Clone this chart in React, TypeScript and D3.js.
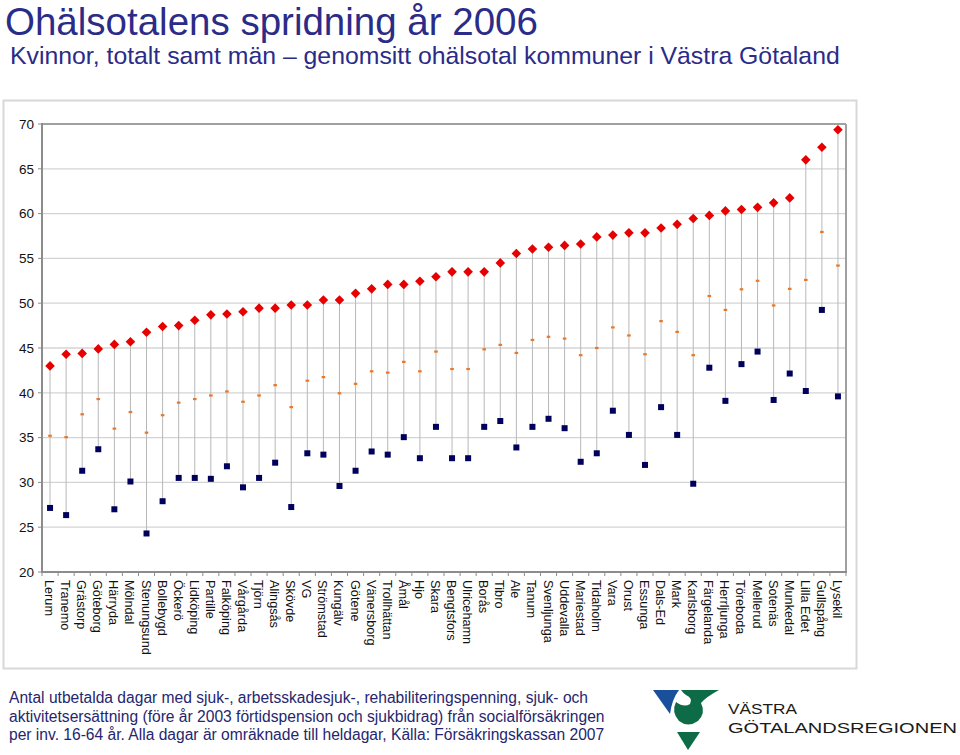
import React from "react";
import * as d3 from "d3";

const categories = [
  "Lerum", "Tranemo", "Grästorp", "Göteborg", "Härryda", "Mölndal", "Stenungsund", "Bollebygd", "Öckerö", "Lidköping",
  "Partille", "Falköping", "Vårgårda", "Tjörn", "Alingsås", "Skövde", "VG", "Strömstad", "Kungälv", "Götene",
  "Vänersborg", "Trollhättan", "Åmål", "Hjo", "Skara", "Bengtsfors", "Ulricehamn", "Borås", "Tibro", "Ale",
  "Tanum", "Svenljunga", "Uddevalla", "Mariestad", "Tidaholm", "Vara", "Orust", "Essunga", "Dals-Ed", "Mark",
  "Karlsborg", "Färgelanda", "Herrljunga", "Töreboda", "Mellerud", "Sotenäs", "Munkedal", "Lilla Edet", "Gullspång", "Lysekil",
];

const women = [
  43.0, 44.3, 44.4, 44.9, 45.4, 45.7, 46.75, 47.4, 47.5, 48.1,
  48.7, 48.8, 49.05, 49.45, 49.45, 49.8, 49.8, 50.35, 50.35, 51.1,
  51.6, 52.1, 52.1, 52.45, 52.95, 53.5, 53.5, 53.5, 54.5, 55.55,
  56.05, 56.25, 56.45, 56.6, 57.4, 57.6, 57.85, 57.85, 58.4, 58.8,
  59.45, 59.8, 60.3, 60.45, 60.7, 61.2, 61.75, 66.0, 67.4, 69.35,
];

const total = [
  35.2, 35.05, 37.6, 39.3, 36.0, 37.85, 35.55, 37.5, 38.9, 39.3,
  39.7, 40.15, 39.0, 39.7, 40.85, 38.4, 41.35, 41.75, 39.95, 41.0,
  42.4, 42.25, 43.45, 42.4, 44.6, 42.65, 42.65, 44.85, 45.35, 44.45,
  45.9, 46.25, 46.05, 44.2, 45.0, 47.3, 46.4, 44.3, 48.0, 46.8,
  44.2, 50.8, 49.25, 51.55, 52.5, 49.75, 51.6, 52.6, 57.95, 54.2,
];

const men = [
  27.15, 26.35, 31.3, 33.7, 27.0, 30.1, 24.3, 27.9, 30.5, 30.5,
  30.4, 31.8, 29.45, 30.5, 32.2, 27.25, 33.25, 33.1, 29.6, 31.3,
  33.45, 33.1, 35.05, 32.7, 36.2, 32.7, 32.7, 36.2, 36.85, 33.9,
  36.2, 37.1, 36.05, 32.3, 33.25, 38.0, 35.3, 31.95, 38.4, 35.3,
  29.85, 42.8, 39.1, 43.2, 44.6, 39.2, 42.15, 40.2, 49.25, 39.6,
];

const yTicks = [20, 25, 30, 35, 40, 45, 50, 55, 60, 65, 70];

const titleText = "Ohälsotalens spridning år 2006";
const subtitleText = "Kvinnor, totalt samt män – genomsitt ohälsotal kommuner i Västra Götaland";
const footnoteLines = [
  "Antal utbetalda dagar med sjuk-, arbetsskadesjuk-, rehabiliteringspenning, sjuk- och",
  "aktivitetsersättning (före år 2003 förtidspension och sjukbidrag) från socialförsäkringen",
  "per inv. 16-64 år. Alla dagar är omräknade till heldagar, Källa: Försäkringskassan 2007",
];

const FONT = "'Liberation Sans', Arial, Helvetica, sans-serif";

export default function App() {
  const W = 960;
  const H = 755;
  const left = 42;
  const right = 846;
  const top = 124;
  const bottom = 572;

  const x = d3.scaleBand<string>().domain(categories).range([left, right]).padding(0);
  const y = d3.scaleLinear().domain([20, 70]).range([bottom, top]);
  const bw = x.bandwidth();
  const cx = (c: string) => (x(c) as number) + bw / 2;

  const dr = 4.8;
  const diamond = `M0,${-dr}L${dr},0L0,${dr}L${-dr},0Z`;
  const gridColor = "#d4d4d4";
  const titleColor = "#2b2b88";

  return (
    <svg
      width={W}
      height={H}
      viewBox={`0 0 ${W} ${H}`}
      style={{ position: "absolute", left: 0, top: 0, background: "#fff" }}
      fontFamily={FONT}
    >
      <rect x={0} y={0} width={W} height={H} fill="#fff" />
      {/* Titles */}
      <text x={5} y={35} fontSize={38.5} fill={titleColor}>{titleText}</text>
      <text x={10} y={64} fontSize={24.8} fill={titleColor}>{subtitleText}</text>

      {/* Chart panel */}
      <rect x={3.5} y={100.5} width={853} height={568} fill="#fff" stroke="#d8d8d8" strokeWidth={2} />

      {/* Gridlines */}
      {yTicks.filter((t) => t > 20 && t < 70).map((t) => (
        <line key={`g${t}`} x1={left} x2={right} y1={y(t)} y2={y(t)} stroke={gridColor} strokeWidth={1.3} />
      ))}

      {/* Plot border */}
      <line x1={left} x2={right} y1={top} y2={top} stroke="#a0a0a0" strokeWidth={2} />
      <line x1={right} x2={right} y1={top} y2={bottom} stroke="#a0a0a0" strokeWidth={2} />
      <line x1={left} x2={left} y1={top - 1} y2={bottom} stroke="#8c8c8c" strokeWidth={2} />
      <line x1={left - 1} x2={right + 1} y1={bottom} y2={bottom} stroke="#8c8c8c" strokeWidth={2} />

      {/* Y ticks + labels */}
      {yTicks.map((t) => (
        <g key={`y${t}`}>
          <line x1={left - 4} x2={left} y1={y(t)} y2={y(t)} stroke="#8c8c8c" strokeWidth={1} />
          <text x={34} y={y(t)} dy="0.35em" fontSize={13.5} textAnchor="end" fill="#111">{t}</text>
        </g>
      ))}

      {/* X ticks */}
      {categories.map((c, i) => (
        <line key={`xt${i}`} x1={x(c) as number} x2={x(c) as number} y1={bottom} y2={bottom + 4} stroke="#8c8c8c" strokeWidth={1} />
      ))}
      <line x1={right} x2={right} y1={bottom} y2={bottom + 4} stroke="#8c8c8c" strokeWidth={1} />

      {/* X labels */}
      {categories.map((c, i) => (
        <text
          key={`xl${i}`}
          transform={`translate(${cx(c) - 1},${580}) rotate(90)`}
          fontSize={12.7}
          dominantBaseline="central"
          fill="#111"
        >
          {c}
        </text>
      ))}

      {/* High-low lines */}
      {categories.map((c, i) => {
        const hi = Math.max(women[i], total[i], men[i]);
        const lo = Math.min(women[i], total[i], men[i]);
        return (
          <line key={`hl${i}`} x1={cx(c)} x2={cx(c)} y1={y(hi)} y2={y(lo)} stroke="#b8b8b8" strokeWidth={1} />
        );
      })}

      {/* Total markers (orange dash) */}
      {categories.map((c, i) => (
        <rect key={`t${i}`} x={cx(c) - 1.8} y={y(total[i]) - 1.1} width={3.6} height={2.2} fill="#e8782a" />
      ))}

      {/* Men markers */}
      {categories.map((c, i) => (
        <rect key={`m${i}`} x={cx(c) - 3} y={y(men[i]) - 3} width={6} height={6} fill="#00005c" />
      ))}

      {/* Women markers */}
      {categories.map((c, i) => (
        <path key={`w${i}`} d={diamond} transform={`translate(${cx(c)},${y(women[i])})`} fill="#e60000" />
      ))}

      {/* Footnote */}
      {footnoteLines.map((l, i) => (
        <text key={`f${i}`} x={9} y={703 + i * 18.7} fontSize={15.6} fill="#26266e">{l}</text>
      ))}

      {/* Logo */}
      <g>
        <path d="M653,690 L679,690 Q672,699 670,714 Z" fill="#1a4f9c" />
        <path d="M681,690 L719,690 Q706,697 701,703 Q706,713 698,721 Q688,728 679,721 Q671,712 676,702 Q684,708 690,704 Q693,698 686,695 Q683,693 681,690 Z" fill="#0e6b47" />
        <path d="M677,732 L700,732 L688,750 Z" fill="#0e6b47" />
        <text x={728} y={714} fontSize={15.5} fill="#1b1b1b" textLength={69} lengthAdjust="spacingAndGlyphs">VÄSTRA</text>
        <text x={728} y={733} fontSize={15.5} fill="#1b1b1b" textLength={229} lengthAdjust="spacingAndGlyphs">GÖTALANDSREGIONEN</text>
      </g>
    </svg>
  );
}
